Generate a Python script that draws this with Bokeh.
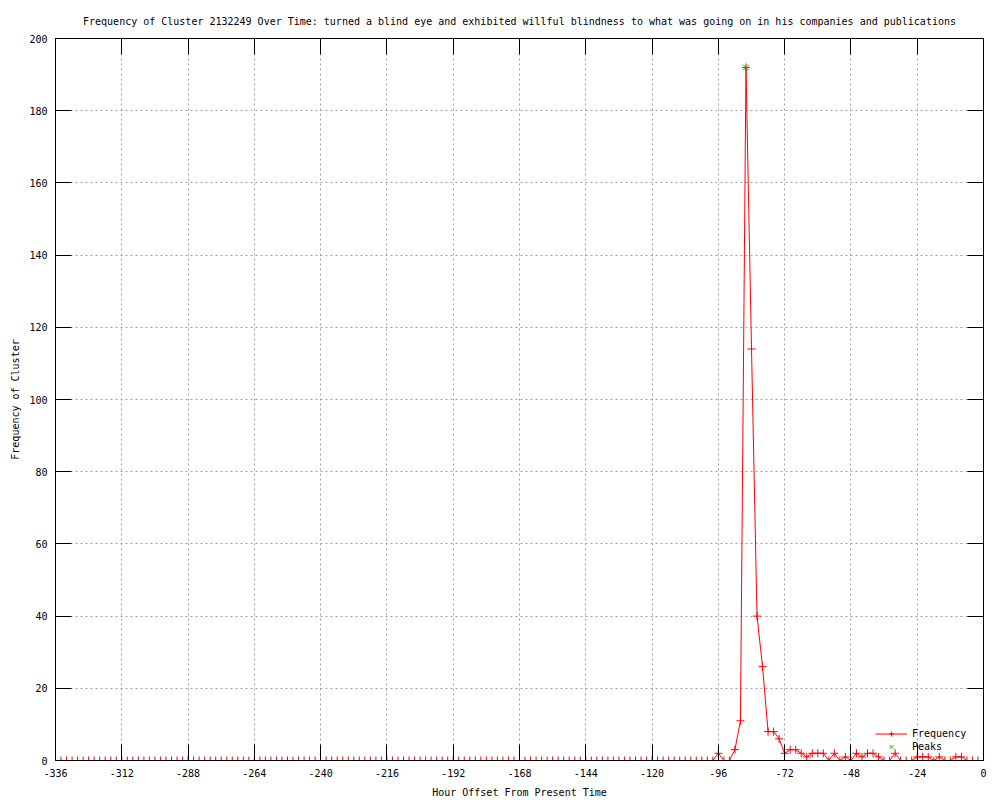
from bokeh.plotting import figure
from bokeh.models import (ColumnDataSource, Range1d, FixedTicker, LinearAxis,
                          Legend, LegendItem)
from bokeh.embed import file_html
from bokeh.resources import INLINE

# ---------------- data ----------------
hours = list(range(-336, 1, 2))  # hour offsets, sampled every 2 hours

freq_early = [  # -336 .. -98
    0, 0, 0, 0, 0, 0, 0, 0, 0, 0, 0, 0, 0, 0, 0, 0, 0, 0, 0, 0,
    0, 0, 0, 0, 0, 0, 0, 0, 0, 0, 0, 0, 0, 0, 0, 0, 0, 0, 0, 0,
    0, 0, 0, 0, 0, 0, 0, 0, 0, 0, 0, 0, 0, 0, 0, 0, 0, 0, 0, 0,
    0, 0, 0, 0, 0, 0, 0, 0, 0, 0, 0, 0, 0, 0, 0, 0, 0, 0, 0, 0,
    0, 0, 0, 0, 0, 0, 0, 0, 0, 0, 0, 0, 0, 0, 0, 0, 0, 0, 0, 0,
    0, 0, 0, 0, 0, 0, 0, 0, 0, 0, 0, 0, 0, 0, 0, 0, 0, 0, 0, 0,
]
freq_late = [  # -96 .. 0
    2, 0, 0, 3, 11, 192, 114, 40, 26, 8,
    8, 6, 2, 3, 3, 2, 1, 2, 2, 2,
    0, 2, 0, 1, 0, 2, 1, 2, 2, 1,
    0, 0, 2, 0, 0, 0, 1, 1, 1, 0,
    1, 0, 0, 1, 1, 0, 0, 0, 0,
]
frequency = freq_early + freq_late

peak_hours = [-86]
peak_values = [192]

x_ticks = [-336, -312, -288, -264, -240, -216, -192, -168, -144, -120, -96, -72, -48, -24, 0]
x_tick_labels = ["-336", "-312", "-288", "-264", "-240", "-216", "-192", "-168",
                 "-144", "-120", "-96", "-72", "-48", "-24", "0"]
y_ticks = [0, 20, 40, 60, 80, 100, 120, 140, 160, 180, 200]

title_text = ("Frequency of Cluster 2132249 Over Time: turned a blind eye and exhibited "
              "willful blindness to what was going on in his companies and publications")

FONT = "DejaVu Sans Mono"
FS = "10px"

# ---------------- figure ----------------
p = figure(width=1000, height=800,
           x_range=Range1d(-336, 0), y_range=Range1d(0, 200),
           output_backend="svg", toolbar_location=None,
           x_axis_location=None, y_axis_location=None,
           min_border_left=55, min_border_top=38, min_border_bottom=40, min_border_right=17)

p.title.text = title_text
p.title.align = "center"
p.title.text_font = FONT
p.title.text_font_size = FS
p.title.text_font_style = "normal"
p.title.text_color = "black"
p.title.standoff = 24

p.outline_line_color = "black"
p.outline_line_width = 1
p.background_fill_color = "white"
p.border_fill_color = "white"


def style_axis(ax, labels=True):
    ax.axis_line_color = "black"
    ax.major_tick_line_color = "black"
    ax.minor_tick_line_color = None
    ax.major_tick_in = 16
    ax.major_tick_out = 0
    ax.major_label_text_font = FONT
    ax.major_label_text_font_size = FS if labels else "1px"
    ax.major_label_text_color = "black" if labels else None
    ax.axis_label_text_font = FONT
    ax.axis_label_text_font_size = FS
    ax.axis_label_text_font_style = "normal"
    ax.axis_label_text_color = "black"
    ax.major_label_standoff = 4
    ax.axis_label_standoff = 4


xb = LinearAxis(ticker=FixedTicker(ticks=x_ticks),
                major_label_overrides={t: s for t, s in zip(x_ticks, x_tick_labels)},
                axis_label="Hour Offset From Present Time")
style_axis(xb)
xb.major_label_standoff = 8
xb.axis_label_standoff = 7
p.add_layout(xb, "below")

xt = LinearAxis(ticker=FixedTicker(ticks=x_ticks))
style_axis(xt, labels=False)
xt.major_label_standoff = 0
p.add_layout(xt, "above")

yl = LinearAxis(ticker=FixedTicker(ticks=y_ticks), axis_label="Frequency of Cluster")
style_axis(yl)
yl.major_label_standoff = 8
yl.axis_label_standoff = 5
p.add_layout(yl, "left")

yr = LinearAxis(ticker=FixedTicker(ticks=y_ticks))
style_axis(yr, labels=False)
yr.major_label_standoff = 0
p.add_layout(yr, "right")

p.xgrid.ticker = FixedTicker(ticks=x_ticks)
p.ygrid.ticker = FixedTicker(ticks=y_ticks)
for g in (p.xgrid, p.ygrid):
    g.grid_line_color = "#a0a0a0"
    g.grid_line_dash = "2 3"
    g.grid_line_width = 1

src = ColumnDataSource(dict(x=hours, y=frequency))
peaks = ColumnDataSource(dict(x=peak_hours, y=peak_values))

r_line = p.line("x", "y", source=src, line_color="#ff0000", line_width=1)
r_pts = p.scatter("x", "y", source=src, marker="cross", size=8,
                  line_color="#ff0000", line_width=1)
r_peak = p.scatter("x", "y", source=peaks, marker="x", size=8,
                   line_color="#00c000", line_width=1)

legend = Legend(items=[LegendItem(label="Frequency", renderers=[r_line, r_pts]),
                       LegendItem(label="Peaks", renderers=[r_peak])],
                location=(818, 5))
legend.background_fill_alpha = 0
legend.border_line_alpha = 0
legend.label_text_font = FONT
legend.label_text_font_size = FS
legend.label_text_color = "black"
legend.glyph_width = 32
legend.glyph_height = 13
legend.label_height = 11
legend.spacing = 0
legend.padding = 2
legend.margin = 0
p.add_layout(legend)

open("out.html", "w").write(file_html(p, INLINE))
